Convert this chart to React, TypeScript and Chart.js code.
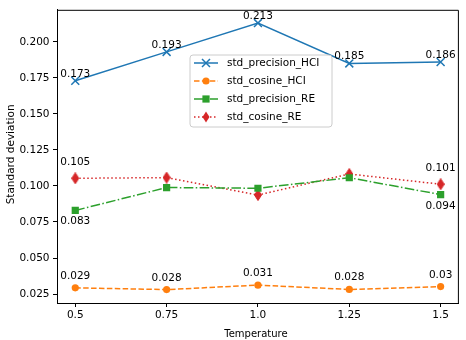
import React, { useEffect, useRef } from "react";
import { Chart, registerables } from "chart.js";

Chart.register(...registerables);

const temperatures = [0.5, 0.75, 1.0, 1.25, 1.5];
const xTickLabels = ["0.5", "0.75", "1.0", "1.25", "1.5"];
const yTicks = [0.025, 0.05, 0.075, 0.1, 0.125, 0.15, 0.175, 0.2];

const stdPrecisionHCI = [0.173, 0.193, 0.213, 0.185, 0.186];
const stdCosineHCI = [0.0293, 0.0281, 0.0312, 0.0282, 0.0302];
const stdPrecisionRE = [0.083, 0.0989, 0.0984, 0.1057, 0.094];
const stdCosineRE = [0.1053, 0.1058, 0.0937, 0.1083, 0.1012];

const seriesNames = ["std_precision_HCI", "std_cosine_HCI", "std_precision_RE", "std_cosine_RE"];

const FONT = "DejaVu Sans";
const FS = 10.5;
const BLUE = "#1f77b4";
const ORANGE = "#ff7f0e";
const GREEN = "#2ca02c";
const RED = "#d62728";

function fmt(v: number) {
  return String(Number(v.toFixed(3)));
}

function makeThinDiamond(): HTMLCanvasElement {
  const c = document.createElement("canvas");
  c.width = 8;
  c.height = 12;
  const g = c.getContext("2d")!;
  g.fillStyle = RED;
  g.strokeStyle = RED;
  g.lineWidth = 1;
  g.beginPath();
  g.moveTo(4, 0.5);
  g.lineTo(7.5, 6);
  g.lineTo(4, 11.5);
  g.lineTo(0.5, 6);
  g.closePath();
  g.fill();
  g.stroke();
  return c;
}

function drawMarker(ctx: CanvasRenderingContext2D, kind: string, x: number, y: number) {
  ctx.save();
  ctx.setLineDash([]);
  if (kind === "x") {
    ctx.strokeStyle = BLUE;
    ctx.lineWidth = 1.5;
    ctx.beginPath();
    ctx.moveTo(x - 4, y - 4);
    ctx.lineTo(x + 4, y + 4);
    ctx.moveTo(x - 4, y + 4);
    ctx.lineTo(x + 4, y - 4);
    ctx.stroke();
  } else if (kind === "circle") {
    ctx.fillStyle = ORANGE;
    ctx.beginPath();
    ctx.arc(x, y, 3.6, 0, Math.PI * 2);
    ctx.fill();
  } else if (kind === "square") {
    ctx.fillStyle = GREEN;
    ctx.fillRect(x - 3.6, y - 3.6, 7.2, 7.2);
  } else if (kind === "diamond") {
    ctx.fillStyle = RED;
    ctx.beginPath();
    ctx.moveTo(x, y - 5.5);
    ctx.lineTo(x + 3.5, y);
    ctx.lineTo(x, y + 5.5);
    ctx.lineTo(x - 3.5, y);
    ctx.closePath();
    ctx.fill();
  }
  ctx.restore();
}

const overlayPlugin = {
  id: "overlay",
  afterDraw(chart: any) {
    const ctx: CanvasRenderingContext2D = chart.ctx;
    const area = chart.chartArea;
    ctx.save();
    // top and right spines
    ctx.strokeStyle = "#000";
    ctx.lineWidth = 1;
    ctx.beginPath();
    ctx.moveTo(area.left, area.top + 0.5);
    ctx.lineTo(area.right - 0.5, area.top + 0.5);
    ctx.lineTo(area.right - 0.5, area.bottom);
    ctx.stroke();

    // data labels
    ctx.fillStyle = "#000";
    ctx.font = `${FS}px '${FONT}'`;
    ctx.textAlign = "center";
    ctx.textBaseline = "alphabetic";
    const labelCfg = [
      { ds: 0, idx: [0, 1, 2, 3, 4], dy: -4 },
      { ds: 1, idx: [0, 1, 2, 3, 4], dy: -9 },
      { ds: 2, idx: [0, 4], dy: 14 },
      { ds: 3, idx: [0, 4], dy: -13 },
    ];
    labelCfg.forEach((c) => {
      const meta = chart.getDatasetMeta(c.ds);
      const data = chart.data.datasets[c.ds].data as any[];
      c.idx.forEach((i) => {
        const el = meta.data[i];
        ctx.fillText(fmt(data[i].y), el.x, el.y + c.dy);
      });
    });

    // axis titles
    ctx.font = `10px '${FONT}'`;
    ctx.fillText("Temperature", (area.left + area.right) / 2 - 2, 337);
    ctx.save();
    ctx.translate(14, (area.top + area.bottom) / 2 - 2);
    ctx.rotate(-Math.PI / 2);
    ctx.font = `10.5px '${FONT}'`;
    ctx.fillText("Standard deviation", 0, 0);
    ctx.restore();

    // legend
    const lx = 190, ly = 55, lw = 142, lh = 72, r = 3;
    ctx.beginPath();
    ctx.moveTo(lx + r, ly);
    ctx.arcTo(lx + lw, ly, lx + lw, ly + lh, r);
    ctx.arcTo(lx + lw, ly + lh, lx, ly + lh, r);
    ctx.arcTo(lx, ly + lh, lx, ly, r);
    ctx.arcTo(lx, ly, lx + lw, ly, r);
    ctx.closePath();
    ctx.fillStyle = "rgba(255,255,255,0.8)";
    ctx.fill();
    ctx.strokeStyle = "#cccccc";
    ctx.lineWidth = 1;
    ctx.stroke();

    const rows = [
      { color: BLUE, dash: [] as number[], marker: "x" },
      { color: ORANGE, dash: [5.5, 2.4], marker: "circle" },
      { color: GREEN, dash: [9.6, 2.4, 1.5, 2.4], marker: "square" },
      { color: RED, dash: [1.5, 2.5], marker: "diamond" },
    ];
    rows.forEach((row, i) => {
      const y = 63 + i * 18;
      ctx.save();
      ctx.strokeStyle = row.color;
      ctx.lineWidth = 1.5;
      ctx.setLineDash(row.dash);
      ctx.beginPath();
      ctx.moveTo(194, y);
      ctx.lineTo(218, y);
      ctx.stroke();
      ctx.restore();
      drawMarker(ctx, row.marker, 206, y);
      ctx.fillStyle = "#000";
      ctx.textAlign = "left";
      ctx.textBaseline = "middle";
      ctx.font = `${FS}px '${FONT}'`;
      ctx.fillText(seriesNames[i], 227, y + 0.5);
    });
    ctx.restore();
  },
};

export default function App() {
  const ref = useRef<HTMLCanvasElement | null>(null);

  useEffect(() => {
    document.body.style.margin = "0";
    const canvas = ref.current!;
    const pts = (vals: number[]) => temperatures.map((t, i) => ({ x: t, y: vals[i] }));
    const diamond = makeThinDiamond();
    const chart = new Chart(canvas, {
      type: "line",
      data: {
        datasets: [
          {
            label: seriesNames[0],
            data: pts(stdPrecisionHCI),
            borderColor: BLUE,
            backgroundColor: BLUE,
            borderWidth: 1.5,
            pointStyle: "crossRot",
            pointRadius: 5.6,
            pointBorderWidth: 1.5,
            pointBorderColor: BLUE,
          },
          {
            label: seriesNames[1],
            data: pts(stdCosineHCI),
            borderColor: ORANGE,
            backgroundColor: ORANGE,
            borderWidth: 1.5,
            borderDash: [5.5, 2.4],
            pointStyle: "circle",
            pointRadius: 3.6,
            pointBorderWidth: 0,
          },
          {
            label: seriesNames[2],
            data: pts(stdPrecisionRE),
            borderColor: GREEN,
            backgroundColor: GREEN,
            borderWidth: 1.5,
            borderDash: [9.6, 2.4, 1.5, 2.4],
            pointStyle: "rect",
            pointRadius: 5.1,
            pointBorderWidth: 0,
          },
          {
            label: seriesNames[3],
            data: pts(stdCosineRE),
            borderColor: RED,
            backgroundColor: RED,
            borderWidth: 1.5,
            borderDash: [1.5, 2.5],
            pointStyle: diamond as any,
            pointRadius: 5,
          },
        ],
      },
      options: {
        responsive: false,
        animation: false,
        devicePixelRatio: 1,
        layout: { padding: { top: 0, right: 1, left: 0, bottom: 0 } },
        plugins: {
          legend: { display: false },
          tooltip: { enabled: false },
        },
        scales: {
          x: {
            type: "linear",
            min: 0.45,
            max: 1.55,
            afterBuildTicks: (scale: any) => {
              scale.ticks = temperatures.map((v) => ({ value: v }));
            },
            afterFit: (scale: any) => {
              scale.height = 37;
            },
            grid: {
              display: true,
              drawOnChartArea: false,
              drawTicks: true,
              tickLength: 4,
              tickWidth: 1,
              color: "#000",
            },
            border: { display: true, color: "#000", width: 1 },
            ticks: {
              color: "#000",
              font: { family: FONT, size: FS },
              padding: 2,
              autoSkip: false,
              maxRotation: 0,
              callback: (v: any) => {
                const i = temperatures.indexOf(Number(v));
                return i >= 0 ? xTickLabels[i] : "";
              },
            },
          },
          y: {
            type: "linear",
            min: 0.0188,
            max: 0.2222,
            afterBuildTicks: (scale: any) => {
              scale.ticks = yTicks.map((v) => ({ value: v }));
            },
            afterFit: (scale: any) => {
              scale.width = 57;
            },
            grid: {
              display: true,
              drawOnChartArea: false,
              drawTicks: true,
              tickLength: 4,
              tickWidth: 1,
              color: "#000",
            },
            border: { display: true, color: "#000", width: 1 },
            ticks: {
              color: "#000",
              font: { family: FONT, size: FS },
              padding: 3.5,
              autoSkip: false,
              callback: (v: any) => Number(v).toFixed(3),
            },
          },
        },
      },
      plugins: [overlayPlugin],
    });
    return () => chart.destroy();
  }, []);

  return (
    <div style={{ width: 466, height: 340 }}>
      <canvas ref={ref} width={466} height={340} style={{ display: "block" }} />
    </div>
  );
}
